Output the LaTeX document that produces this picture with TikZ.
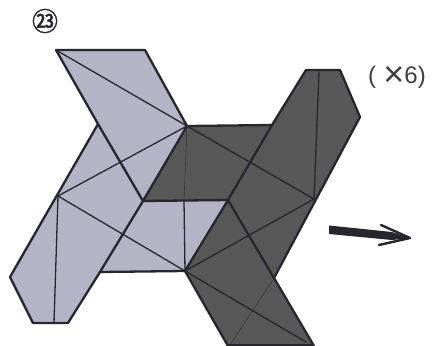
\documentclass[tikz,border=0pt]{standalone}
\usepackage{fontspec}
\setmainfont{Liberation Sans}
\newfontfamily\cjkf[FakeBold=1.5]{Noto Sans CJK JP}
\usetikzlibrary{arrows.meta}
\definecolor{lightface}{HTML}{B5B3C6}
\definecolor{darkface}{HTML}{585858}
\definecolor{edgeink}{HTML}{26262E}
\tikzset{
  x=1pt,y=-1pt,
  edge/.style={draw=edgeink,line width=2.3pt,line join=round,line cap=round},
  crease/.style={draw=edgeink,line width=1.3pt,line cap=round},
  faint/.style={draw=black!70!darkface,line width=.6pt,opacity=.5},
  lightpoly/.style={fill=lightface},
  darkpoly/.style={fill=darkface},
}
\begin{document}
\begin{tikzpicture}
\useasboundingbox (0,0) rectangle (432,346);
\fill[white] (0,0) rectangle (432,346);
% key points
\coordinate (A) at (56,50);
\coordinate (B) at (145,50);
\coordinate (C) at (187,126);
\coordinate (D) at (98,124);
\coordinate (E) at (143,201);
\coordinate (F) at (58,196);
\coordinate (G) at (10,277);
\coordinate (H) at (33,323);
\coordinate (I) at (68,323);
\coordinate (J) at (100,272);
\coordinate (K) at (185,271);
\coordinate (L) at (228,200);
\coordinate (M) at (272,125);
\coordinate (N) at (306,70);
\coordinate (O) at (340,70);
\coordinate (P) at (360,117);
\coordinate (Q) at (274,278);
\coordinate (R) at (314,346);
\coordinate (S) at (228,346);
\coordinate (T) at (314,199);
\coordinate (U) at (184,201);
\coordinate (V) at (319,72);
\coordinate (W) at (54,323);
\coordinate (X) at (306,342);
% fills
\fill[lightpoly] (A)--(B)--(C)--(E)--(D)--cycle;
\fill[lightpoly] (D)--(C)--(E)--(J)--(I)--(H)--(G)--cycle;
\fill[lightpoly] (E)--(L)--(K)--(J)--cycle;
\fill[darkpoly] (C)--(M)--(N)--(O)--(P)--(Q)--(R)--(S)--(K)--(L)--(E)--cycle;
% creases
\draw[crease] (A)--(C);
\draw[crease] (C)--(F);
\draw[crease] (F)--(K);
\draw[crease] (F)--(W);
\draw[crease] (U)--(K);
\draw[crease] (C)--(T);
\draw[crease] (V)--(T);
\draw[crease] (T)--(K);
\draw[crease] (K)--(X);
\draw[faint] (C)--(U);
\draw[faint] (Q)--(230,345);
% outlines
\draw[edge] (A)--(B)--(C);
\draw[edge] (A)--(D)--(E);
\draw[edge] (D)--(G)--(H)--(I)--(J)--(E)--(C);
\draw[edge] (J)--(K)--(L);
\draw[edge] (E)--(L)--(M);
\draw[edge] (C)--(M)--(N)--(O)--(P)--(Q);
\draw[edge] (L)--(Q)--(R);
\draw[edge] (K)--(S);
\draw[edge,line width=1.4pt] (S)++(0,-1)--(313,345);
% arrow
\coordinate (arrowtip) at (410,238);
\fill[edgeink,rounded corners=.5pt] (329,225.5)--(392,232)--(arrowtip)--(392,240)--(329,234)--cycle;
\draw[edge,line width=2.4pt] (381,225)--(arrowtip)--(379,245);
% labels
\node[inner sep=0pt,text=black!75] (count) at (397,77.5) {\fontsize{24}{24}\selectfont (\hspace{.3em}\raisebox{-3pt}{\fontsize{36}{24}\selectfont ×}6)};
\node[inner sep=0pt,text=edgeink] (stepno) at (45,21) {\cjkf\fontsize{26}{26}\selectfont ㉓};
\end{tikzpicture}
\end{document}
